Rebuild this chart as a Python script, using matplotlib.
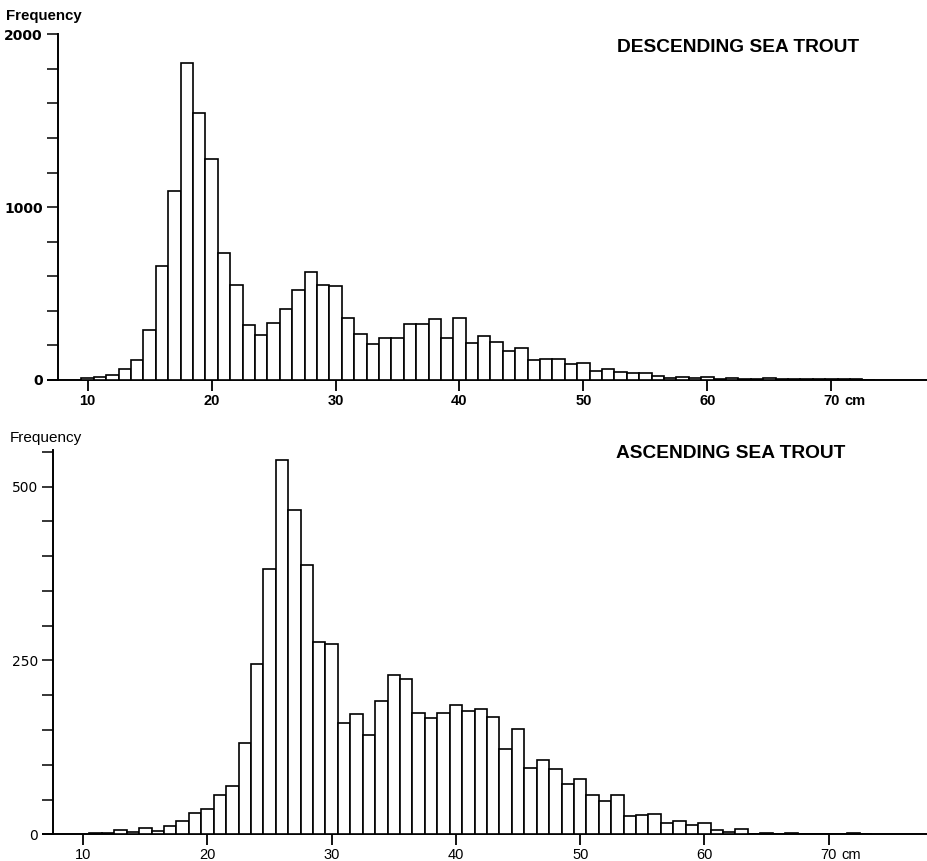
import matplotlib
matplotlib.use("Agg")
import matplotlib.pyplot as plt
import numpy as np

# ---- data ----
desc_lengths = list(range(10, 74))
desc_freq = [10, 18, 30, 62, 116, 289, 662, 1095, 1836, 1547,
             1277, 733, 548, 316, 262, 332, 409, 521, 626, 548,
             542, 361, 264, 208, 245, 241, 326, 326, 353, 245,
             357, 212, 253, 220, 166, 187, 118, 123, 123, 91,
             98, 52, 62, 48, 38, 42, 24, 10, 20, 12,
             17, 8, 13, 4, 4, 13, 4, 4, 4, 3,
             4, 3, 3, 2]

asc_lengths = list(range(11, 74))
asc_freq = [2, 2, 6, 4, 9, 5, 12, 19, 30,
            37, 56, 70, 131, 245, 382, 539, 466, 387, 276,
            274, 160, 173, 143, 192, 229, 224, 174, 167, 175,
            186, 177, 180, 168, 123, 152, 96, 107, 94, 73,
            80, 56, 48, 57, 26, 28, 29, 16, 19, 13,
            16, 6, 4, 8, 1, 2, 1, 2, 1, 1,
            1, 0, 2, 1]

x_ticks = [10, 20, 30, 40, 50, 60, 70]
x_tick_labels = ["10", "20", "30", "40", "50", "60", "70"]
desc_yticks = [0, 1000, 2000]
asc_yticks = [0, 250, 500]

W, H = 928, 861
plt.rcParams['font.family'] = ['Liberation Sans', 'DejaVu Sans']
fig = plt.figure(figsize=(W / 100, H / 100), dpi=100)


def px_axes(x0, x1, ytop, ybot):
    return fig.add_axes([x0 / W, 1 - ybot / H, (x1 - x0) / W, (ybot - ytop) / H])


def style(ax, xlim, ylim, spine_x, yticks, yminor_step, label_weight):
    ax.set_xlim(*xlim)
    ax.set_ylim(*ylim)
    for s in ['top', 'right']:
        ax.spines[s].set_visible(False)
    ax.spines['left'].set_position(('data', spine_x))
    ax.spines['left'].set_bounds(ylim[0], ylim[1])
    ax.spines['left'].set_linewidth(1.4)
    ax.spines['bottom'].set_linewidth(1.4)
    ax.set_xticks(x_ticks)
    ax.set_xticklabels(x_tick_labels)
    ax.set_yticks(yticks)
    ax.set_yticklabels([str(v) for v in yticks])
    ax.set_yticks(np.arange(0, ylim[1] + 1, yminor_step), minor=True)
    ax.tick_params(axis='x', direction='out', length=8, width=1.3, pad=2)
    ax.tick_params(axis='y', which='both', direction='out', length=8, width=1.1,
                   pad=3)
    for lab in ax.get_xticklabels():
        lab.set_fontweight(label_weight)
        lab.set_fontsize(10.5)
        lab.set_family(['Liberation Sans', 'DejaVu Sans'])
    for lab in ax.get_yticklabels():
        lab.set_fontweight(label_weight)
        lab.set_fontsize(10)
        lab.set_family(['DejaVu Sans'])
    ax.annotate("cm", xy=(70, 0), xycoords='data', xytext=(9.4, -10),
                textcoords='offset points', ha='left', va='top', fontsize=10.5,
                fontweight=label_weight, annotation_clip=False)


# top: descending
ax1 = px_axes(48, 928, 34.3, 380)
ax1.bar(desc_lengths, desc_freq, width=1.0, facecolor='white', edgecolor='black',
        linewidth=1.2, zorder=3)
style(ax1, (6.8, 77.8), (0, 2000), 7.6, desc_yticks, 200, 'bold')

# bottom: ascending
ax2 = px_axes(43, 928, 450.5, 834.3)
ax2.bar(asc_lengths, asc_freq, width=1.0, facecolor='white', edgecolor='black',
        linewidth=1.2, zorder=3)
style(ax2, (6.76, 78.0), (0, 552), 7.58, asc_yticks, 50, 'normal')

fig.text(738 / W, 1 - 47 / H, "DESCENDING SEA TROUT", fontsize=13.8,
         fontweight='bold', ha='center', va='center')
fig.text(731 / W, 1 - 453 / H, "ASCENDING SEA TROUT", fontsize=13.8,
         fontweight='bold', ha='center', va='center')
fig.text(6 / W, 1 - 16 / H, "Frequency", fontsize=10.8, fontweight='bold',
         ha='left', va='center')
fig.text(10 / W, 1 - 438 / H, "Frequency", fontsize=11, fontweight='normal',
         ha='left', va='center')

fig.savefig("out.png", dpi=100, facecolor='white')
